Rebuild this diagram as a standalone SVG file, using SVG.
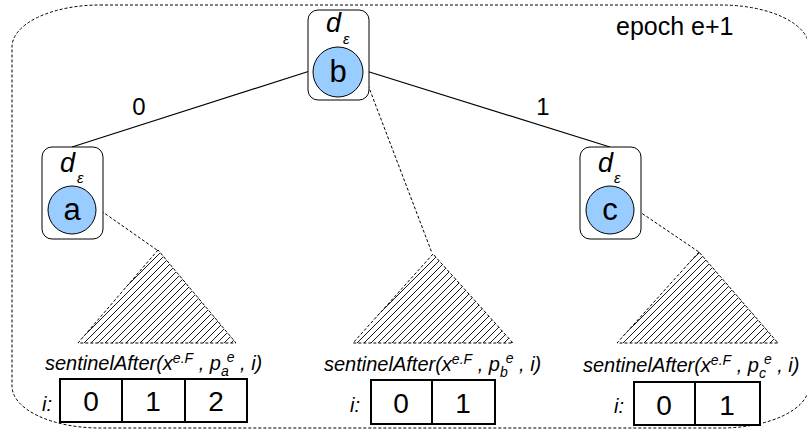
<svg xmlns="http://www.w3.org/2000/svg" width="807" height="436" viewBox="0 0 807 436">
<style>
text{font-family:"Liberation Sans",Arial,sans-serif;fill:#000}
.box{fill:#fff;stroke:#000;stroke-width:1}
.circ{fill:#99ccff;stroke:#000;stroke-width:1}
.nl{font-size:31px;text-anchor:middle}
.d{font-size:27px;font-style:italic}
.eps{font-size:15px;font-style:italic}
.edge{stroke:#000;stroke-width:1.2;fill:none}
.dash{stroke:#000;stroke-width:1;fill:none;stroke-dasharray:3,2}
.tri{fill:url(#hatch);stroke:#000;stroke-width:1;stroke-dasharray:3,2}
.fn{font-size:20px;font-style:italic}
.ss{font-size:14px}
.cell{fill:#fff;stroke:#000;stroke-width:2}
.num{font-size:28px;text-anchor:middle}
.lab{font-size:24px;text-anchor:middle}
</style>
<defs>
<pattern id="hatch" patternUnits="userSpaceOnUse" width="7" height="7">
<path d="M0,7 L7,0 M-1,1 L1,-1 M6,8 L8,6" stroke="#000" stroke-width="0.9"/>
</pattern>
</defs>
<rect id="container" x="12" y="5" width="797" height="423" rx="88" ry="42" fill="none" stroke="#000" stroke-width="1" stroke-dasharray="3,2"/>
<text x="616" y="35" font-size="25">epoch e+1</text>
<g id="connectors">
<line class="edge" x1="313" y1="70" x2="72" y2="147"/>
<line class="edge" x1="363" y1="70" x2="610" y2="147"/>
<text class="lab" x="139" y="115">0</text>
<text class="lab" x="543" y="115">1</text>
<polyline class="dash" points="97,208 157,250"/>
<polyline class="dash" points="368,85 432,253"/>
<polyline class="dash" points="634,208 699,252"/>
</g>
<g id="node-b">
<rect class="box" x="308" y="10" width="61" height="90" rx="10"/>
<text class="d" x="326" y="32">d</text>
<text class="eps" x="343" y="44">ε</text>
<circle class="circ" cx="338" cy="72" r="25"/>
<text class="nl" x="338" y="82">b</text>
</g>
<g id="node-a">
<rect class="box" x="42" y="147" width="61" height="92" rx="10"/>
<text class="d" x="60" y="172">d</text>
<text class="eps" x="77" y="183">ε</text>
<circle class="circ" cx="72" cy="210" r="24"/>
<text class="nl" x="72" y="220">a</text>
</g>
<g id="node-c">
<rect class="box" x="580" y="147" width="61" height="92" rx="10"/>
<text class="d" x="598" y="172">d</text>
<text class="eps" x="614" y="183">ε</text>
<circle class="circ" cx="610" cy="210" r="24"/>
<text class="nl" x="610" y="220">c</text>
</g>
<g id="subtree-a">
<polygon class="tri" points="158,250 78,343 236,343"/>
<text class="fn" x="45" y="370">sentinelAfter(x<tspan class="ss" dy="-7">e.F</tspan><tspan dy="7"> , p</tspan><tspan class="ss" dy="6">a</tspan><tspan class="ss" dx="-2" dy="-14">e</tspan><tspan dy="8"> , i)</tspan></text>
<text class="fn" x="42" y="411" font-size="20">i:</text>
<rect class="cell" x="60" y="379" width="187" height="43"/>
<line class="cell" x1="122" y1="379" x2="122" y2="422"/>
<line class="cell" x1="185" y1="379" x2="185" y2="422"/>
<text class="num" x="91" y="411">0</text>
<text class="num" x="153" y="411">1</text>
<text class="num" x="216" y="411">2</text>
</g>
<g id="subtree-b">
<polygon class="tri" points="433,254 353,343 513,343"/>
<text class="fn" x="324" y="371">sentinelAfter(x<tspan class="ss" dy="-7">e.F</tspan><tspan dy="7"> , p</tspan><tspan class="ss" dy="6">b</tspan><tspan class="ss" dx="-2" dy="-14">e</tspan><tspan dy="8"> , i)</tspan></text>
<text class="fn" x="350" y="412" font-size="20">i:</text>
<rect class="cell" x="371" y="380" width="124" height="44"/>
<line class="cell" x1="432" y1="380" x2="432" y2="424"/>
<text class="num" x="401" y="413">0</text>
<text class="num" x="463" y="413">1</text>
</g>
<g id="subtree-c">
<polygon class="tri" points="699,252 617,343 778,343"/>
<text class="fn" x="583" y="372">sentinelAfter(x<tspan class="ss" dy="-7">e.F</tspan><tspan dy="7"> , p</tspan><tspan class="ss" dy="6">c</tspan><tspan class="ss" dx="-2" dy="-14">e</tspan><tspan dy="8"> , i)</tspan></text>
<text class="fn" x="614" y="413" font-size="20">i:</text>
<rect class="cell" x="634" y="382" width="126" height="43"/>
<line class="cell" x1="695" y1="382" x2="695" y2="425"/>
<text class="num" x="664" y="415">0</text>
<text class="num" x="727" y="415">1</text>
</g>
</svg>
